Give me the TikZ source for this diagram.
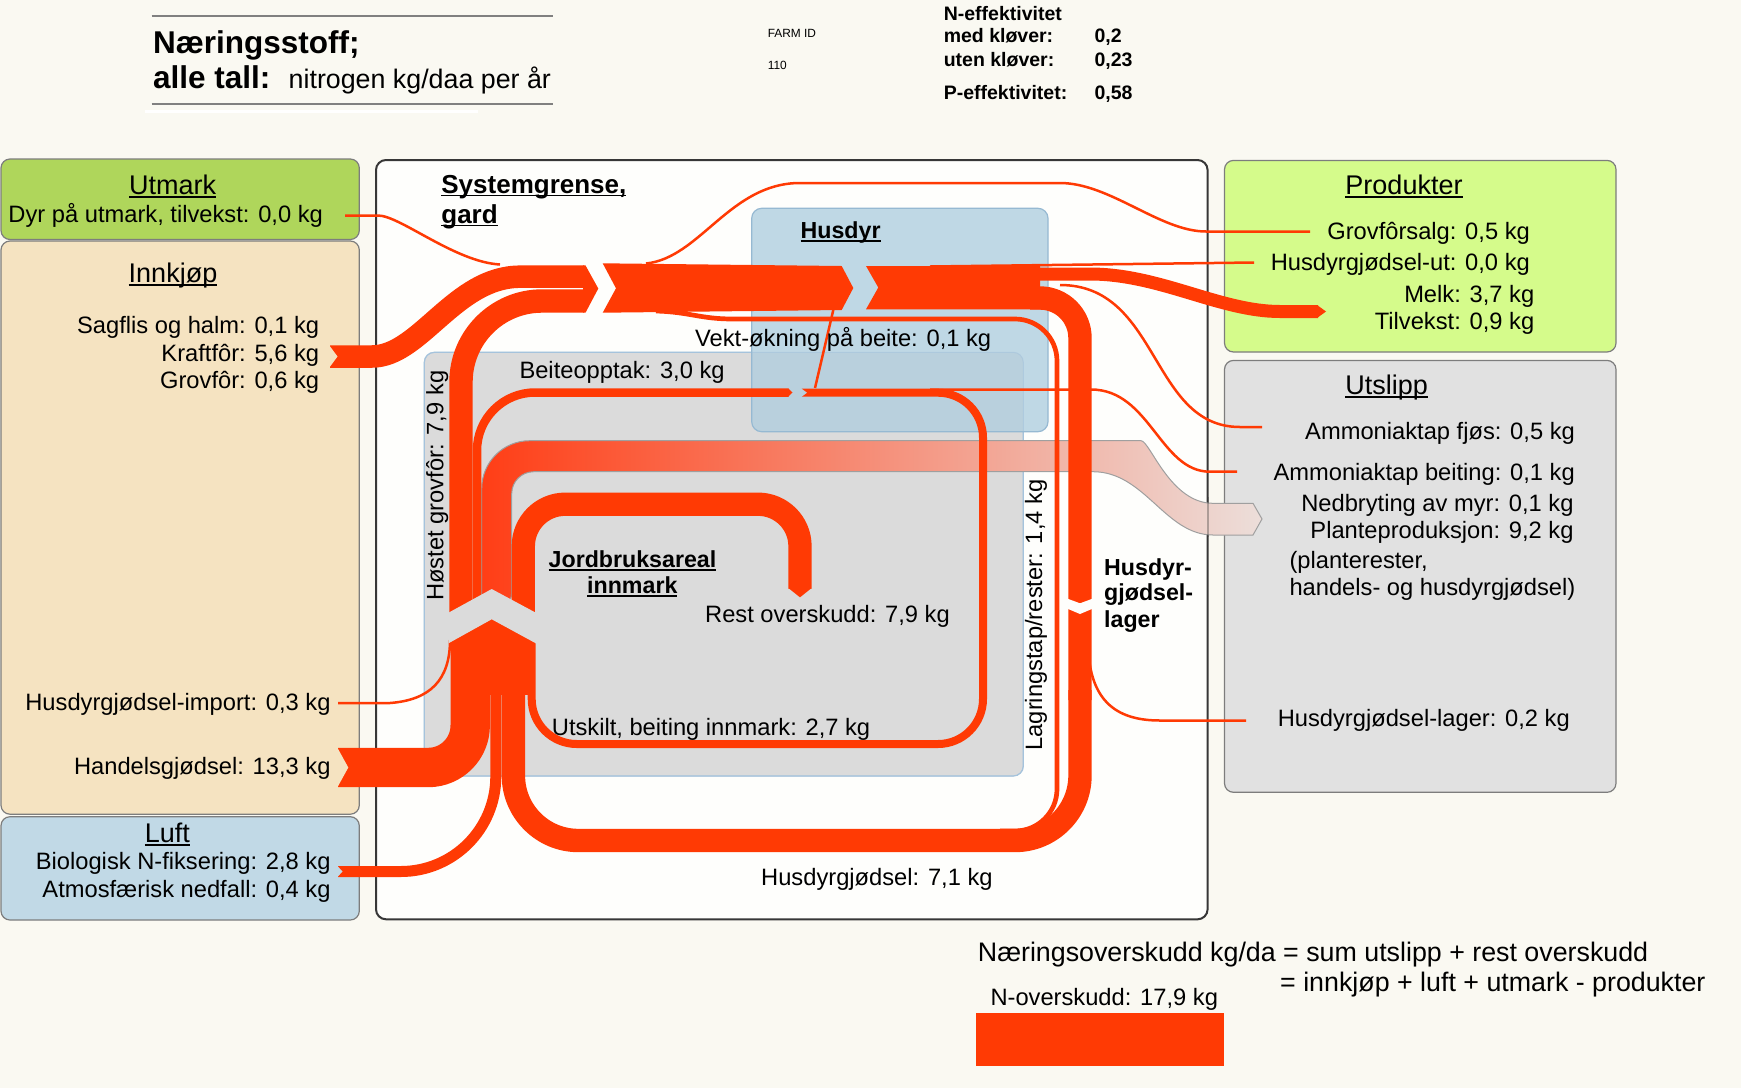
\documentclass[tikz,border=0pt]{standalone}
\usepackage{fontspec}
\setmainfont{Liberation Sans}
\definecolor{nred}{RGB}{255,58,4}
\definecolor{bgc}{RGB}{250,249,242}
\definecolor{sysfill}{RGB}{254,254,252}
\definecolor{sysb}{RGB}{55,55,55}
\definecolor{fieldc}{RGB}{219,219,219}
\definecolor{fieldb}{RGB}{165,195,220}
\definecolor{husc}{RGB}{191,216,229}
\definecolor{husb}{RGB}{150,185,210}
\definecolor{overc}{RGB}{185,208,221}
\definecolor{utmc}{RGB}{175,214,91}
\definecolor{innc}{RGB}{245,227,193}
\definecolor{luftc}{RGB}{193,217,230}
\definecolor{prodc}{RGB}{213,251,139}
\definecolor{utsc}{RGB}{225,225,225}
\definecolor{boxb}{RGB}{125,125,125}
\definecolor{gradL}{RGB}{255,62,22}
\definecolor{gradR}{RGB}{236,222,218}
\definecolor{tline}{RGB}{128,128,128}
\newcommand\fz[1]{\fontsize{#1}{#1}\selectfont}
\newcommand\myul[1]{\setbox0\hbox{#1}\rlap{\rule[-0.13em]{\wd0}{0.07em}}\box0}
\begin{document}
\begin{tikzpicture}[x=1pt,y=-1pt,
  lab/.style={font=\fz{23.7}, inner sep=0pt},
  ttl/.style={font=\fz{27}, inner sep=0pt},
  bld/.style={font=\bfseries\fz{23.2}, inner sep=0pt},
  eff/.style={font=\bfseries\fz{19.5}, inner sep=0pt, anchor=base west},
  band/.style={draw=nred, line cap=butt, line join=round},
  thinline/.style={draw=nred, line width=2.5},
  box/.style={draw=boxb, line width=1.2, rounded corners=9}]
\useasboundingbox (0,0) rectangle (1741,1088);
\fill[bgc] (0,0) rectangle (1741,1088);

% title lines
\draw[tline, line width=2] (151.5,15.6) -- (552.5,15.6);
\draw[tline, line width=2] (151.5,104) -- (552.5,104);
\draw[white, line width=3] (145,111.7) -- (478,111.7);

% outer boxes
\filldraw[box, fill=utmc] (1,159) rectangle (359.3,239.5);
\filldraw[box, fill=innc] (1,241) rectangle (359.3,814.2);
\filldraw[box, fill=luftc] (1,816.7) rectangle (359.3,920);
\filldraw[box, fill=prodc] (1224.5,160.4) rectangle (1616,352);
\filldraw[box, fill=utsc] (1224.5,360.4) rectangle (1616,792.3);

% system box
\filldraw[draw=sysb, line width=2, fill=sysfill, rounded corners=10] (376,160) rectangle (1207.6,919.3);

% field and husdyr
\filldraw[draw=fieldb, line width=1.2, fill=fieldc, rounded corners=10] (424.3,352.3) rectangle (1023.3,776);
\fill[husc, rounded corners=10] (751.7,208.3) rectangle (1048,431.7);
\begin{scope}
  \clip[rounded corners=10] (424.3,352.3) rectangle (1023.3,776);
  \fill[overc, rounded corners=10] (751.7,208.3) rectangle (1048,431.7);
\end{scope}
\draw[fieldb, line width=1, opacity=0.6, rounded corners=10] (424.3,352.3) rectangle (1023.3,776);
\draw[husb, line width=1.2, rounded corners=10] (751.7,208.3) rectangle (1048,431.7);

% Planteproduksjon gradient band
\shadedraw[left color=gradL, right color=gradR, draw=gray!75, line width=1]
 (481.7,614) [rounded corners=48] -- (481.7,440.7) -- (1093,440.7) [sharp corners]
 .. controls (1150,440.7) and (1170,503.3) .. (1213,503.3) -- (1253,503.3) -- (1262,519) -- (1253,535) -- (1213,535)
 .. controls (1165,535) and (1145,471.7) .. (1093,471.7) [rounded corners=22] -- (511.7,471.7) -- (511.7,614) [sharp corners] -- cycle;
\draw[sysb, opacity=0.35, line width=2] (1207.6,497) -- (1207.6,537);

% Kraftfor band
\draw[band, line width=22.5] (330,356.5) -- (372,356.5) .. controls (420,356.5) and (455,276.7) .. (520,276.7) -- (584,276.7);
% Hostet grovfor
\draw[band, line width=23.4, rounded corners=81] (461,614) -- (461,301) -- (584,301);
% segment A tip, B, C
\fill[nred] (583,265.45) -- (585.5,265.45) -- (598.3,288.5) -- (585.5,312.7) -- (583,312.7) -- cycle;
\fill[nred] (602.7,263.3) -- (841.7,266) -- (853.3,288) -- (841.7,310) -- (602.7,312.7) -- (616,288.3) -- cycle;
\fill[nred] (866,266) -- (1040,266) -- (1040,309.3) -- (866,309.3) -- (878.3,287.5) -- cycle;
% Melk
\draw[band, line width=13] (1030,274) -- (1090,274) .. controls (1160,274) and (1220,311.5) .. (1280,311.5) -- (1318,311.5);
\fill[nred] (1317,305) -- (1326,311.5) -- (1317,318) -- cycle;
% Husdyrgjodsel (lager)
\draw[band, line width=23.4, rounded corners=40] (1030,298) -- (1080,298) -- (1080,700);
\draw[band, line width=23.4, rounded corners=65] (1080,690) -- (1080,840.5) -- (513.4,840.5) -- (513.4,617);
% Lagringstap
\draw[band, line width=4.7] (656,311) .. controls (690,312) and (700,319) .. (733,319) [rounded corners=42] -- (1057,319) -- (1057,831) -- (1000,831);
% Beiteopptak
\draw[band, line width=8.5, rounded corners=58] (477,617) -- (477,392.5) -- (788.5,392.5);
\fill[nred] (788,388.3) -- (792.5,392.5) -- (788,396.7) -- cycle;
% Utskilt
\draw[band, line width=8, rounded corners=45] (801.7,392.7) -- (983,392.7) -- (983,744) -- (531.7,744) -- (531.7,617);
\fill[overc] (801,388.2) -- (807,392.7) -- (801,397.2) -- cycle;
% Rest overskudd
\draw[band, line width=23.3, rounded corners=42] (523.3,617) -- (523.3,504.2) -- (800,504.2) -- (800,588.5);
\fill[nred] (788.35,588) -- (800,597.3) -- (811.65,588) -- cycle;
% Handelsgjodsel
\draw[band, line width=39.4, rounded corners=42] (338,767.5) -- (470.2,767.5) -- (470.2,617);
% Luft
\draw[band, line width=11, rounded corners=95] (338,871.5) -- (495.8,871.5) -- (495.8,617);
\fill[nred] (450.5,617) rectangle (535,695);

% thin lines
\draw[thinline] (345,215.5) -- (378,215.5) .. controls (400,215.5) and (455,262) .. (500,264.5);
\draw[thinline] (646,263.5) .. controls (700,258) and (730,183) .. (800,183) -- (1060,183) .. controls (1110,183) and (1160,231.5) .. (1206,231.5) -- (1310,231.5);
\draw[thinline] (930,266.5) -- (1254,262.5);
\draw[thinline] (833.3,310) -- (815,388);
\draw[thinline] (1060,285) .. controls (1160,285) and (1150,427) .. (1240,427) -- (1262,427);
\draw[thinline] (930,389.5) -- (1091,389.5) .. controls (1150,389.5) and (1160,471.7) .. (1210,471.7) -- (1237,471.7);
\draw[thinline] (1088,640) .. controls (1088,700) and (1115,720.5) .. (1160,720.5) -- (1246,720.5);
\draw[thinline] (338,703) -- (390,703) .. controls (430,700) and (450,680) .. (450,640);

% gaps / notches
\fill[fieldc] (448.5,612.7) -- (491.7,589) -- (535.8,612.7) -- (535.8,643.3) -- (491.7,619.3) -- (448.5,643.3) -- cycle;
\fill[sysfill] (1066.5,598.3) -- (1080,603.3) -- (1093.5,598.3) -- (1093.5,608.3) -- (1080,614) -- (1066.5,608.3) -- cycle;
\fill[innc] (329,345) -- (337.5,356.5) -- (329,368) -- cycle;
\fill[innc] (337,747) -- (348.3,767.5) -- (337,788) -- cycle;
\fill[luftc] (337,865.5) -- (342.5,871.5) -- (337,877.5) -- cycle;

% N-overskudd bar
\fill[nred] (976.2,1013.3) rectangle (1223.5,1066);

% ---- texts ----
\node[font=\bfseries\fz{31.5}, inner sep=0, anchor=base west] (t1) at (153,53.3) {Næringsstoff;};
\node[font=\bfseries\fz{31.5}, inner sep=0, anchor=base west] (t2) at (153,88.3) {alle tall:};
\node[font=\fz{26.8}, inner sep=0, anchor=base west] (t3) at (288.5,88.3) {nitrogen kg/daa per år};
\node[font=\fz{11.9}, inner sep=0, anchor=base west] (farm) at (767.6,37.6) {FARM ID};
\node[font=\fz{11.9}, inner sep=0, anchor=base west] (fid) at (767.6,69.3) {110};
\node[eff] (ne) at (943.6,20) {N-effektivitet};
\node[eff] (mk) at (943.6,42.5) {med kløver:};
\node[eff] (uk) at (943.6,66.5) {uten kløver:};
\node[eff] (pe) at (943.6,99.3) {P-effektivitet:};
\node[eff] (v1) at (1094.4,42.5) {0,2};
\node[eff] (v2) at (1094.4,66.5) {0,23};
\node[eff] (v3) at (1094.4,99.3) {0,58};

\node[ttl, anchor=base] (utm) at (172.7,194.5) {\myul{Utmark}};
\node[lab, anchor=base west] (dyr) at (8.3,222) {Dyr på utmark, tilvekst: 0,0 kg};
\node[ttl, anchor=base] (inn) at (173,282) {\myul{Innkjøp}};
\node[lab, anchor=base east] (sag) at (319.3,333.7) {Sagflis og halm: 0,1 kg};
\node[lab, anchor=base east] (kra) at (319.3,361) {Kraftfôr: 5,6 kg};
\node[lab, anchor=base east] (gro) at (319.3,388.4) {Grovfôr: 0,6 kg};
\node[lab, anchor=base east] (imp) at (330.7,710.5) {Husdyrgjødsel-import: 0,3 kg};
\node[lab, anchor=base east] (han) at (330.7,774) {Handelsgjødsel: 13,3 kg};
\node[ttl, anchor=base] (luft) at (167.3,842) {\myul{Luft}};
\node[lab, anchor=base east] (bio) at (330.7,869.5) {Biologisk N-fiksering: 2,8 kg};
\node[lab, anchor=base east] (atm) at (330.7,897) {Atmosfærisk nedfall: 0,4 kg};

\node[font=\bfseries\fz{26}, inner sep=0, anchor=base west] (sys1) at (441.2,193) {\myul{Systemgrense,}};
\node[font=\bfseries\fz{26}, inner sep=0, anchor=base west] (sys2) at (441.2,223) {\myul{gard}};
\node[bld, anchor=base west] (hus) at (800.4,238.5) {\myul{Husdyr}};
\node[lab, anchor=base west] (vekt) at (695,346.7) {Vekt-økning på beite: 0,1 kg};
\node[lab, anchor=base west] (beite) at (519.3,378.3) {Beiteopptak: 3,0 kg};
\node[lab, rotate=90, anchor=base] (host) at (443.3,485.8) {Høstet grovfôr: 7,9 kg};
\node[lab, rotate=90, anchor=base] (lagr) at (1042,615) {Lagringstap/rester: 1,4 kg};
\node[bld, anchor=base west] (hl1) at (1104,575) {Husdyr-};
\node[bld, anchor=base west] (hl2) at (1104,600.5) {gjødsel-};
\node[bld, anchor=base west] (hl3) at (1104,627.5) {lager};
\node[bld, anchor=base] (jb1) at (632.5,567.5) {\myul{Jordbruksareal}};
\node[bld, anchor=base] (jb2) at (632.3,593.7) {\myul{innmark}};
\node[lab, anchor=base west] (rest) at (705,622.7) {Rest overskudd: 7,9 kg};
\node[lab, anchor=base west] (utsk) at (551.7,735) {Utskilt, beiting innmark: 2,7 kg};
\node[lab, anchor=base west] (hg71) at (761,885) {Husdyrgjødsel: 7,1 kg};

\node[ttl, anchor=base] (prod) at (1404,194.5) {\myul{Produkter}};
\node[lab, anchor=base east] (gfs) at (1530,239.3) {Grovfôrsalg: 0,5 kg};
\node[lab, anchor=base east] (hut) at (1530,270.3) {Husdyrgjødsel-ut: 0,0 kg};
\node[lab, anchor=base east] (melk) at (1534.4,302.7) {Melk: 3,7 kg};
\node[lab, anchor=base east] (tilv) at (1534.4,329.7) {Tilvekst: 0,9 kg};

\node[ttl, anchor=base] (uts) at (1386.6,394.8) {\myul{Utslipp}};
\node[lab, anchor=base east] (amf) at (1575,439.2) {Ammoniaktap fjøs: 0,5 kg};
\node[lab, anchor=base east] (amb) at (1575,480) {Ammoniaktap beiting: 0,1 kg};
\node[lab, anchor=base east] (myr) at (1573.7,511) {Nedbryting av myr: 0,1 kg};
\node[lab, anchor=base east] (plp) at (1573.7,538) {Planteproduksjon: 9,2 kg};
\node[lab, anchor=base west] (plr) at (1289.3,568) {(planterester,};
\node[lab, anchor=base west] (hhg) at (1289.3,595) {handels- og husdyrgjødsel)};
\node[lab, anchor=base east] (hgl) at (1570,726.8) {Husdyrgjødsel-lager: 0,2 kg};

\node[font=\fz{26.8}, inner sep=0, anchor=base west] (eq1) at (977.7,961.7) {Næringsoverskudd kg/da = sum utslipp + rest overskudd};
\node[font=\fz{26.8}, inner sep=0, anchor=base west] (eq2) at (1280,991.7) {= innkjøp + luft + utmark - produkter};
\node[lab, anchor=base west] (nov) at (990.3,1005.7) {N-overskudd: 17,9 kg};
\end{tikzpicture}
\end{document}
